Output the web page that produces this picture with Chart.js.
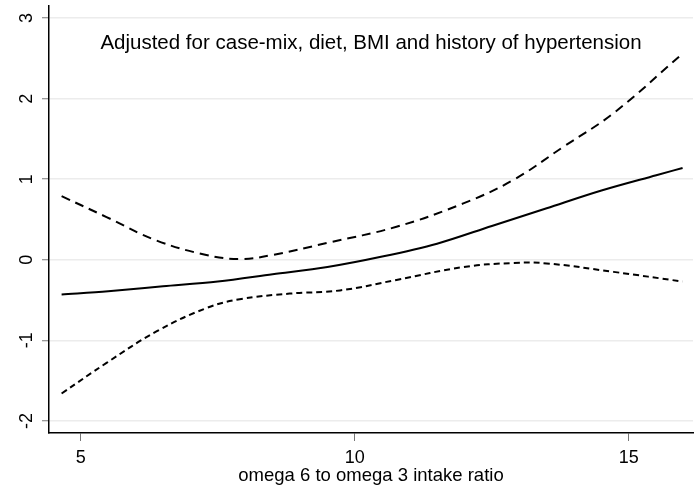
<!DOCTYPE html>
<html>
<head>
<meta charset="utf-8">
<script src="https://cdn.jsdelivr.net/npm/chart.js@4/dist/chart.umd.min.js"></script>
<style>
html,body{margin:0;padding:0;background:#fff;}
#wrap{width:699px;height:487px;}
</style>
</head>
<body>
<div id="wrap"><canvas id="c" width="699" height="487"></canvas></div>
<script>
// ---- data ----
const xTicks = [5, 10, 15];
const yTicks = [-2, -1, 0, 1, 2, 3];
const xTitle = 'omega 6 to omega 3 intake ratio';
const note = 'Adjusted for case-mix, diet, BMI and history of hypertension';

const estX = [4.65, 5.5, 6.5, 7.5, 8.5, 9.5, 10.5, 11.5, 12.5, 13.5, 14.5, 15.5, 15.98];
const estY = [-0.43, -0.39, -0.33, -0.27, -0.18, -0.09, 0.04, 0.20, 0.42, 0.64, 0.86, 1.05, 1.14];

const upX = [4.65, 5.47, 6.38, 7.29, 7.9, 8.5, 9.5, 10.76, 11.98, 12.89, 13.8, 14.72, 15.98];
const upY = [0.79, 0.53, 0.24, 0.06, 0.01, 0.06, 0.21, 0.41, 0.70, 0.99, 1.40, 1.82, 2.56];

const loX = [4.65, 5.47, 6.38, 7.29, 7.9, 8.81, 9.73, 10.76, 11.98, 12.89, 13.5, 14.72, 15.98];
const loY = [-1.66, -1.28, -0.89, -0.60, -0.49, -0.42, -0.38, -0.25, -0.09, -0.04, -0.045, -0.15, -0.27];

const pts = (xs, ys) => xs.map((x, i) => ({x: x, y: ys[i]}));
const FONT = "'Liberation Sans', Arial, Helvetica, sans-serif";

const notePlugin = {
  id: 'note',
  afterDraw(chart) {
    const ctx = chart.ctx, a = chart.chartArea;
    ctx.save();
    ctx.font = '20.5px ' + FONT;
    ctx.fillStyle = '#000';
    ctx.textAlign = 'center';
    ctx.textBaseline = 'alphabetic';
    ctx.fillText(note, (a.left + a.right) / 2, 49);
    ctx.restore();
  }
};

const noPad = s => { s.paddingTop = 0; s.paddingBottom = 0; s.paddingLeft = 0; s.paddingRight = 0; };

new Chart(document.getElementById('c'), {
  type: 'line',
  data: {
    datasets: [
      {label: 'estimate', data: pts(estX, estY), borderColor: '#000', borderWidth: 2, pointRadius: 0, cubicInterpolationMode: 'monotone', fill: false},
      {label: 'upper', data: pts(upX, upY), borderColor: '#000', borderWidth: 2, borderDash: [9, 6], pointRadius: 0, tension: 0.4, fill: false},
      {label: 'lower', data: pts(loX, loY), borderColor: '#000', borderWidth: 2, borderDash: [6, 4], pointRadius: 0, tension: 0.4, fill: false}
    ]
  },
  options: {
    responsive: false,
    animation: false,
    devicePixelRatio: 1,
    layout: {padding: {top: 6, right: 6, left: 0, bottom: 0}},
    plugins: {legend: {display: false}, tooltip: {enabled: false}, title: {display: false}},
    scales: {
      x: {
        type: 'linear', min: 4.42, max: 16.17,
        afterBuildTicks: s => { s.ticks = xTicks.map(v => ({value: v})); },
        afterFit: s => { s.height = 54; noPad(s); },
        ticks: {font: {family: FONT, size: 18}, color: '#000', padding: 6, maxRotation: 0, autoSkip: false},
        grid: {drawOnChartArea: false, tickLength: 8, tickColor: '#777', tickWidth: 1},
        border: {color: '#000', width: 1.5},
        title: {display: true, text: xTitle, font: {family: FONT, size: 18.5}, color: '#000', padding: {top: 0, bottom: 0}}
      },
      y: {
        type: 'linear', min: -2.15, max: 3.15,
        afterBuildTicks: s => { s.ticks = yTicks.map(v => ({value: v})); },
        afterFit: s => { s.width = 49; noPad(s); },
        ticks: {font: {family: FONT, size: 18}, color: '#000', padding: 7, minRotation: 90, maxRotation: 90, crossAlign: 'center', autoSkip: false},
        grid: {color: '#ececec', lineWidth: 1.5, tickLength: 7, tickColor: '#777', tickWidth: 1},
        border: {color: '#000', width: 1.5}
      }
    }
  },
  plugins: [notePlugin]
});
</script>
</body>
</html>
